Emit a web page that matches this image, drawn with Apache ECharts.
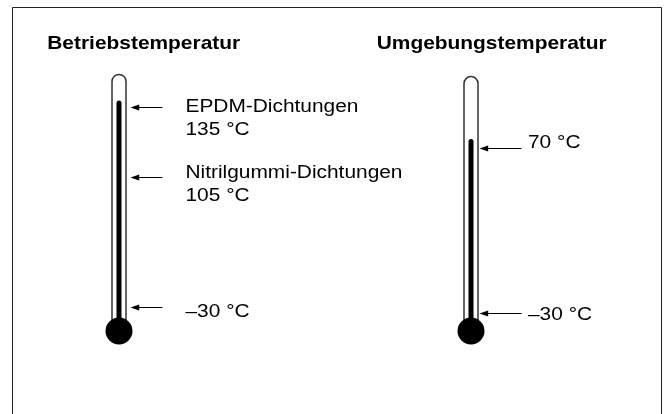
<!DOCTYPE html>
<html><head><meta charset="utf-8">
<script src="https://cdn.jsdelivr.net/npm/echarts@6/dist/echarts.min.js"></script>
<style>html,body{margin:0;padding:0;background:#fff}#c{width:672px;height:414px}</style>
</head><body><div id="c"></div>
<script>
// ---- data ----
const thermometers = ['Betriebstemperatur', 'Umgebungstemperatur'];
// schematic fill levels (0 = bulb centre, 100 = top of scale)
const tubeTopLevel = [99.7, 98.9];
const mercuryLevel = [89.3, 74.4];
const markerThermo = [0, 0, 0, 1, 1];
const markerName = ['EPDM-Dichtungen', 'Nitrilgummi-Dichtungen', '', '', ''];
const markerTemp = [135, 105, -30, 70, -30];
const markerLevel = [86.7, 59.8, 9.2, 70.8, 6.9];

// ---- layout / style (px) ----
const FONT = '"Liberation Sans", Arial, Helvetica, sans-serif';
const titleDx = [24.7, 20.7];
const titleY = 44;
const arrowTipDx = [11.5, 8.5];
const arrowLen = [32, 42];
const labelDx = [66.5, 57];
const labelNudge = [0, -4, 5, -5, 2];
const lineGap = 23;

function fmtTemp(t) { return (t < 0 ? '\u2013' + Math.abs(t) : String(t)) + ' \u00B0C'; }

const chart = echarts.init(document.getElementById('c'), null, {renderer: 'canvas'});

function thermoItem(params, api) {
  const idx = api.value(0);
  const base = api.coord([idx, 0]);
  const cx = base[0], by = base[1];
  const topY = api.coord([idx, api.value(1)])[1];
  const mY = api.coord([idx, api.value(2)])[1];
  const halfW = 7;
  return {
    type: 'group',
    children: [
      { type: 'rect', shape: { x: cx - halfW, y: topY + 0.75, width: halfW * 2, height: by - topY, r: [halfW, halfW, 0, 0] },
        style: { fill: '#fff', stroke: '#333', lineWidth: 1.5 } },
      { type: 'rect', shape: { x: cx - 2.5, y: mY, width: 5, height: by - mY, r: [2.5, 2.5, 0, 0] },
        style: { fill: '#000' } },
      { type: 'circle', shape: { cx: cx, cy: by, r: 13.5 }, style: { fill: '#000' } },
      { type: 'text', x: cx + titleDx[idx], y: titleY, scaleX: 1.13,
        style: { text: thermometers[idx], fontFamily: FONT, fontSize: 18.5, fontWeight: 'bold', fill: '#000', align: 'center', verticalAlign: 'middle' } }
    ]
  };
}

function markerItem(params, api) {
  const i = params.dataIndex;
  const idx = api.value(0);
  const p = api.coord([idx, api.value(1)]);
  const cx = p[0], y = Math.round(p[1]) + 0.5;
  const tip = cx + arrowTipDx[idx];
  const tail = tip + arrowLen[idx];
  const children = [
    { type: 'line', shape: { x1: tip + 6, y1: y, x2: tail, y2: y }, style: { stroke: '#000', lineWidth: 1 } },
    { type: 'polygon', shape: { points: [[tip, y], [tip + 8.7, y - 2.9], [tip + 8.7, y + 2.9]] }, style: { fill: '#000' } }
  ];
  const lines = markerName[i] ? [markerName[i], fmtTemp(api.value(2))] : [fmtTemp(api.value(2))];
  lines.forEach(function (t, k) {
    children.push({ type: 'text', x: cx + labelDx[idx], y: p[1] + labelNudge[i] + k * lineGap, scaleX: 1.16,
      style: { text: t, fontFamily: FONT, fontSize: 18, fill: '#000', align: 'left', verticalAlign: 'middle' } });
  });
  return { type: 'group', children: children };
}

chart.setOption({
  animation: false,
  backgroundColor: '#fff',
  grid: { left: 119, right: 201, top: 73, bottom: 83 },
  xAxis: { type: 'category', data: thermometers, boundaryGap: false, show: false },
  yAxis: { type: 'value', min: 0, max: 100, show: false },
  graphic: [
    { type: 'rect', silent: true, shape: { x: 12.5, y: 7.5, width: 649, height: 430 }, style: { fill: 'none', stroke: '#222', lineWidth: 1 } }
  ],
  series: [
    { type: 'custom', renderItem: thermoItem,
      data: thermometers.map(function (n, i) { return [i, tubeTopLevel[i], mercuryLevel[i]]; }) },
    { type: 'custom', renderItem: markerItem,
      data: markerTemp.map(function (t, i) { return [markerThermo[i], markerLevel[i], t]; }) }
  ]
});
</script></body></html>
